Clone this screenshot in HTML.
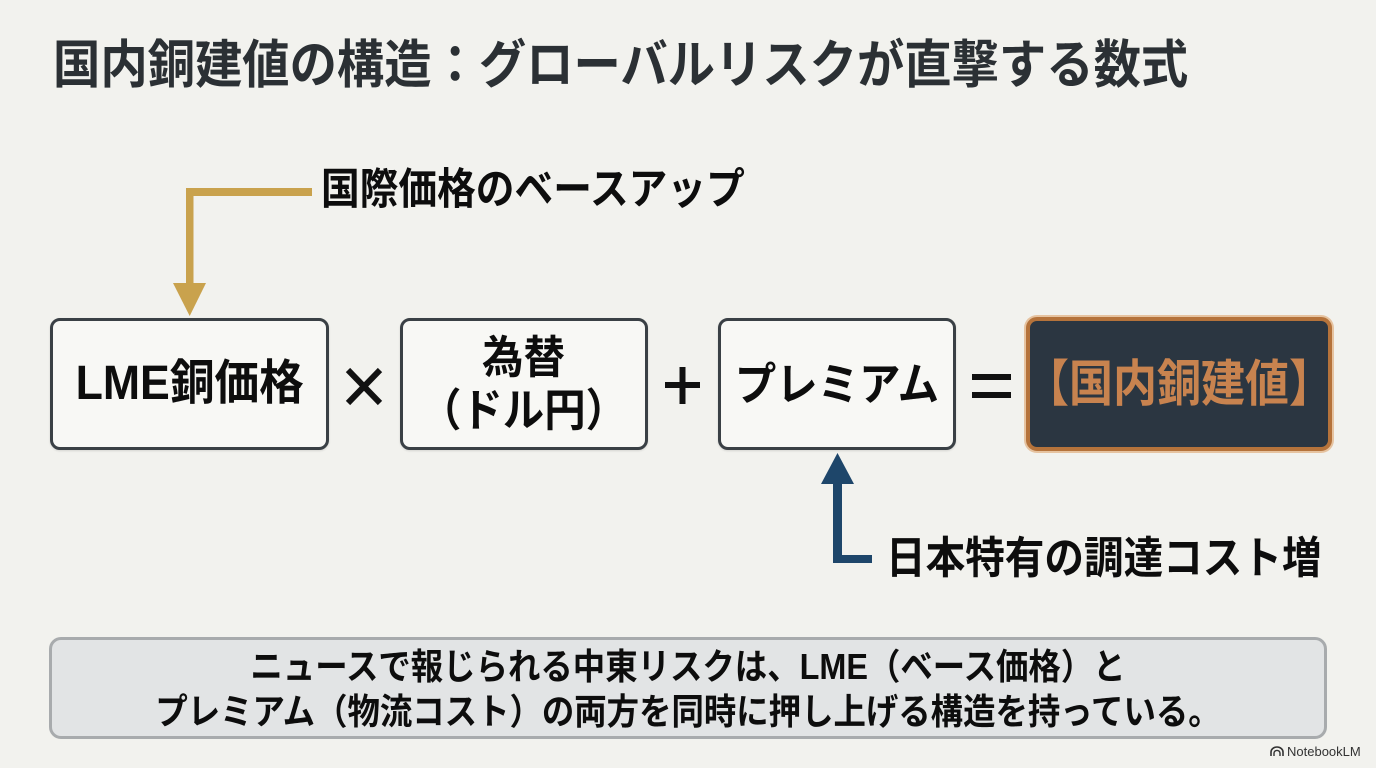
<!DOCTYPE html>
<html lang="ja">
<head>
<meta charset="utf-8">
<style>
  html, body { margin:0; padding:0; }
  body {
    width:1376px; height:768px; overflow:hidden; position:relative;
    background:#f2f2ee;
    font-family:"Liberation Sans","Noto Sans CJK JP",sans-serif;
  }
  .abs { position:absolute; white-space:nowrap; }
  .title {
    left:53px; top:40px; font-size:52px; line-height:52px; font-weight:700;
    color:#2b3034; transform:scaleX(0.91); transform-origin:left center;
  }
  .lab1 {
    left:321px; top:169px; font-size:43px; line-height:43px; font-weight:700;
    color:#0d0d0d; transform:scaleX(0.9); transform-origin:left center;
  }
  .lab2 {
    left:886px; top:537px; font-size:44px; line-height:44px; font-weight:700;
    color:#0d0d0d; transform:scaleX(0.9); transform-origin:left center;
  }
  .box {
    position:absolute; box-sizing:border-box;
    border:3.5px solid #3a4045; border-radius:10px; background:#f8f8f5;
    display:flex; align-items:center; justify-content:center;
    box-shadow:0 1px 2px rgba(0,0,0,0.12);
  }
  .bt {
    display:inline-block; font-weight:700; color:#0d0d0d; text-align:center;
    white-space:nowrap;
  }
  .res {
    position:absolute; box-sizing:border-box;
    left:1026px; top:317px; width:306px; height:134px;
    background:#2b3641; border:4px solid #b5733b; border-radius:11px;
    box-shadow:0 0 0 2px #e6c3a0;
    display:flex; align-items:center; justify-content:center;
  }
  .res span {
    display:inline-block; font-size:50px; line-height:50px; font-weight:700;
    color:#c8834f; transform:scaleX(0.88); white-space:nowrap;
  }
  .note {
    position:absolute; box-sizing:border-box;
    left:49px; top:637px; width:1278px; height:102px;
    background:#e2e4e5; border:3px solid #a8abad; border-radius:12px;
  }
  .nl {
    position:absolute; left:0; width:100%; text-align:center;
    font-size:36px; line-height:36px; font-weight:700; color:#0d0d0d;
    white-space:nowrap; transform:scaleX(0.9); transform-origin:center center;
  }
  .logo {
    position:absolute; left:1270px; top:744px; font-size:13px; line-height:16px;
    color:#333; white-space:nowrap;
  }
</style>
</head>
<body>

<div class="abs title">国内銅建値の構造：グローバルリスクが直撃する数式</div>

<div class="abs lab1">国際価格のベースアップ</div>

<svg class="abs" style="left:0;top:0" width="1376" height="768" viewBox="0 0 1376 768">
  <!-- gold arrow -->
  <rect x="186" y="188" width="126" height="8" fill="#c9a24d"/>
  <rect x="186" y="188" width="7.5" height="97" fill="#c9a24d"/>
  <polygon points="173,283 206,283 189.7,316" fill="#c9a24d"/>
  <!-- blue arrow -->
  <rect x="833" y="481" width="9" height="82" fill="#1e466a"/>
  <rect x="833" y="555" width="39" height="8" fill="#1e466a"/>
  <polygon points="821,484 854,484 837.5,453" fill="#1e466a"/>
  <!-- × -->
  <line x1="348" y1="370" x2="380" y2="403" stroke="#111" stroke-width="6"/>
  <line x1="380" y1="370" x2="348" y2="403" stroke="#111" stroke-width="6"/>
  <!-- + -->
  <rect x="665" y="382" width="35" height="6" fill="#111"/>
  <rect x="679.5" y="367" width="6" height="37" fill="#111"/>
  <!-- = -->
  <rect x="972" y="374" width="39" height="6" fill="#111"/>
  <rect x="972" y="392" width="39" height="6" fill="#111"/>
</svg>

<div class="box" style="left:50px;top:318px;width:279px;height:132px;">
  <span class="bt" style="font-size:48px;line-height:48px;transform:scaleX(0.93);">LME銅価格</span>
</div>

<div class="box" style="left:400px;top:318px;width:248px;height:132px;">
  <span class="bt" style="font-size:45px;line-height:53px;transform:scaleX(0.92);">為替<br>（ドル円）</span>
</div>

<div class="box" style="left:718px;top:318px;width:238px;height:132px;">
  <span class="bt" style="font-size:45px;line-height:45px;transform:scaleX(0.92);">プレミアム</span>
</div>

<div class="res"><span>【国内銅建値】</span></div>

<div class="abs lab2">日本特有の調達コスト増</div>

<div class="note">
  <div class="nl" style="top:9px;">ニュースで報じられる中東リスクは、LME（ベース価格）と</div>
  <div class="nl" style="top:54px;">プレミアム（物流コスト）の両方を同時に押し上げる構造を持っている。</div>
</div>

<div class="logo">
  <svg width="14" height="11" viewBox="0 0 14 11" style="vertical-align:-1px;margin-right:3px;">
    <path d="M1 10 V6 A6 5 0 0 1 13 6 V10" fill="none" stroke="#333" stroke-width="1.6"/>
    <path d="M4 10 V7 A3 2.6 0 0 1 10 7 V10" fill="none" stroke="#333" stroke-width="1.4"/>
  </svg>NotebookLM
</div>

</body>
</html>
